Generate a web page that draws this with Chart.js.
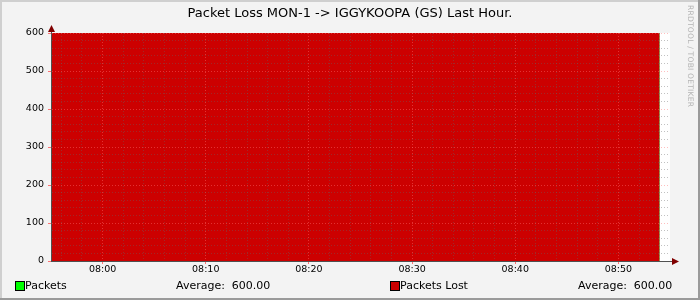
<!DOCTYPE html>
<html>
<head>
<meta charset="utf-8">
<script src="https://cdn.jsdelivr.net/npm/chart.js@4"></script>
<style>
  html, body { margin:0; padding:0; background:#f3f3f3; }
  #wrap { position:relative; width:700px; height:300px; overflow:hidden; font-family:'DejaVu Sans', sans-serif; }
  #c { position:absolute; left:0; top:0; }
  #title { position:absolute; left:0; top:5px; width:700px; text-align:center; font-size:13px; line-height:16px; color:#000; white-space:pre; }
  .lg { position:absolute; font-size:11px; line-height:12px; color:#000; white-space:pre; }
  .sw { position:absolute; width:10px; height:10px; box-sizing:border-box; border:1px solid #000; }
  #wm { position:absolute; left:686px; top:5px; writing-mode:vertical-rl; font-size:7.6px; color:#b4b4b4; letter-spacing:0.2px; white-space:pre; }
</style>
</head>
<body>
<div id="wrap">
  <canvas id="c" width="700" height="300"></canvas>
  <div id="title"></div>
  <div class="sw" style="left:15px;top:281px;background:#00ff00"></div>
  <div class="lg" style="left:25px;top:280px">Packets</div>
  <div class="lg" style="left:176px;top:280px">Average:  600.00</div>
  <div class="sw" style="left:390px;top:281px;background:#cc0000"></div>
  <div class="lg" style="left:400px;top:280px">Packets Lost</div>
  <div class="lg" style="left:578px;top:280px">Average:  600.00</div>
  <div id="wm">RRDTOOL / TOBI OETIKER</div>
</div>
<script>
// ---- data ----
const times = ["07:55","07:56","07:57","07:58","07:59","08:00","08:01","08:02","08:03","08:04",
               "08:05","08:06","08:07","08:08","08:09","08:10","08:11","08:12","08:13","08:14",
               "08:15","08:16","08:17","08:18","08:19","08:20","08:21","08:22","08:23","08:24",
               "08:25","08:26","08:27","08:28","08:29","08:30","08:31","08:32","08:33","08:34",
               "08:35","08:36","08:37","08:38","08:39","08:40","08:41","08:42","08:43","08:44",
               "08:45","08:46","08:47","08:48","08:49","08:50","08:51","08:52","08:53","08:54"];
const packets = [600,600,600,600,600,600,600,600,600,600,
                 600,600,600,600,600,600,600,600,600,600,
                 600,600,600,600,600,600,600,600,600,600,
                 600,600,600,600,600,600,600,600,600,600,
                 600,600,600,600,600,600,600,600,600,600,
                 600,600,600,600,600,600,600,600,600,600];
const packetsLost = [600,600,600,600,600,600,600,600,600,600,
                     600,600,600,600,600,600,600,600,600,600,
                     600,600,600,600,600,600,600,600,600,600,
                     600,600,600,600,600,600,600,600,600,600,
                     600,600,600,600,600,600,600,600,600,600,
                     600,600,600,600,600,600,600,600,600,600];
const xTickLabels = ["08:00","08:10","08:20","08:30","08:40","08:50"];
const yTickLabels = ["0","100","200","300","400","500","600"];
const titleText = "Packet Loss MON-1 -> IGGYKOOPA (GS) Last Hour.";
document.getElementById('title').textContent = titleText;

// minutes relative to 08:00
const toMin = s => { const [h,m] = s.split(':').map(Number); return h*60 + m - 480; };
const xs = times.map(toMin);
const pts = arr => arr.map((v,i) => ({x: xs[i], y: v}));

const FONT = "'DejaVu Sans', sans-serif";
const MAJOR = 'rgba(255,110,110,0.45)';
const MINOR = 'rgba(100,100,100,0.4)';

const frame = {
  id:'frame',
  beforeDraw(chart){
    const c = chart.ctx;
    c.save();
    c.fillStyle = '#f3f3f3'; c.fillRect(0,0,700,300);
    const a = chart.chartArea;
    c.fillStyle = '#ffffff'; c.fillRect(a.left, a.top, a.right-a.left, a.bottom-a.top);
    c.fillStyle = '#cfcfcf'; c.fillRect(0,0,700,2); c.fillRect(0,0,2,300);
    c.fillStyle = '#9a9a9a'; c.fillRect(698,0,2,300); c.fillRect(0,298,700,2);
    c.restore();
  },
  afterDraw(chart){
    const c = chart.ctx, a = chart.chartArea;
    c.save();
    c.strokeStyle = '#505050'; c.lineWidth = 1;
    c.beginPath();
    c.moveTo(a.left+0.5, a.top); c.lineTo(a.left+0.5, a.top-4);
    c.moveTo(a.right, a.bottom+0.5); c.lineTo(a.right+4, a.bottom+0.5);
    c.stroke();
    c.fillStyle = '#800000';
    c.beginPath();
    c.moveTo(a.left+0.5, a.top-8); c.lineTo(a.left-3, a.top-1); c.lineTo(a.left+4, a.top-1); c.closePath(); c.fill();
    c.beginPath();
    c.moveTo(a.right+9, a.bottom+0.5); c.lineTo(a.right+2, a.bottom-3); c.lineTo(a.right+2, a.bottom+4); c.closePath(); c.fill();
    c.restore();
  }
};

new Chart(document.getElementById('c'), {
  type:'line',
  data:{
    datasets:[
      { label:'Packets Lost', data: pts(packetsLost), order:0,
        backgroundColor:'#cc0000', borderWidth:0, pointRadius:0, fill:'origin', stepped:true },
      { label:'Packets', data: pts(packets), order:1,
        backgroundColor:'#00ff00', borderWidth:0, pointRadius:0, fill:'origin', stepped:true }
    ]
  },
  options:{
    responsive:false, animation:false, devicePixelRatio:1,
    layout:{ padding:{ top:33, left:0, right:30, bottom:0 } },
    plugins:{ legend:{ display:false }, tooltip:{ enabled:false }, title:{ display:false } },
    scales:{
      x:{
        type:'linear', min:-5, max:55,
        afterFit(s){ s.height = 39; },
        afterBuildTicks(s){ const t=[]; for(let v=-4; v<=54; v+=2) t.push({value:v}); s.ticks=t; },
        ticks:{ autoSkip:false, maxRotation:0, padding:0, color:'#000', z:1,
          font:{ family:FONT, size:9.5 },
          callback:(v)=> (v%10===0 && v>=0) ? xTickLabels[v/10] : '' },
        grid:{ z:1, color:(ctx)=> (ctx.tick && ctx.tick.value%10===0) ? MAJOR : MINOR,
               tickColor:(ctx)=> (ctx.tick && ctx.tick.value%10===0) ? 'rgba(255,80,80,0.8)' : 'rgba(0,0,0,0)',
               tickLength:3, lineWidth:1, drawOnChartArea:true },
        border:{ z:2, display:true, color:'#505050', width:1, dash:[1,2] }
      },
      y:{
        min:0, max:600,
        afterFit(s){ s.width = 51; },
        afterBuildTicks(s){ const t=[]; for(let v=0; v<=600; v+=20) t.push({value:v}); s.ticks=t; },
        ticks:{ autoSkip:false, padding:4, color:'#000', z:1,
          font:{ family:FONT, size:9.5 },
          callback:(v)=> (v%100===0) ? yTickLabels[v/100] : '' },
        grid:{ z:1, color:(ctx)=> (ctx.tick && ctx.tick.value%100===0) ? MAJOR : MINOR,
               tickColor:(ctx)=> (ctx.tick && ctx.tick.value%100===0) ? 'rgba(255,80,80,0.8)' : 'rgba(0,0,0,0)',
               tickLength:3, lineWidth:1 },
        border:{ z:2, display:true, color:'#505050', width:1, dash:[1,2] }
      }
    }
  },
  plugins:[frame]
});
</script>
</body>
</html>
